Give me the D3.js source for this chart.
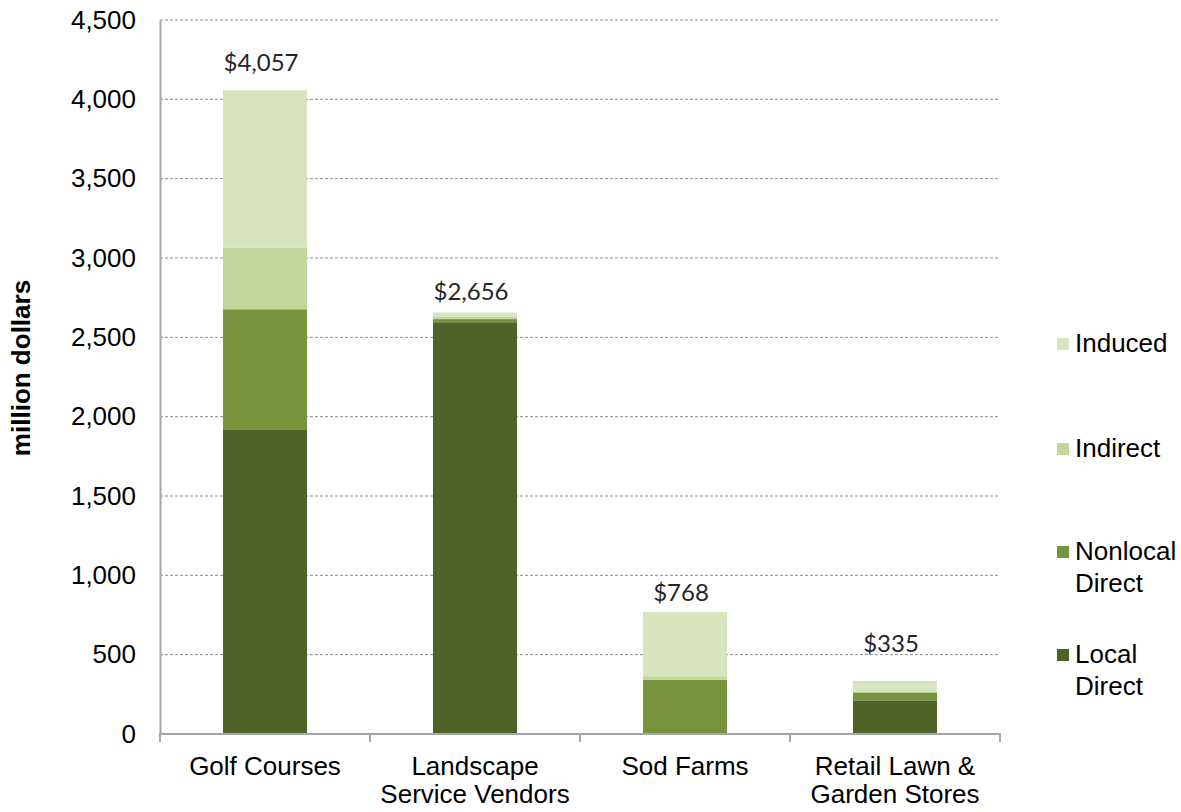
<!DOCTYPE html>
<html>
<head>
<meta charset="utf-8">
<script src="https://cdn.jsdelivr.net/npm/d3@7"></script>
<style>
  html, body { margin: 0; padding: 0; background: #ffffff; }
  svg { display: block; }
</style>
</head>
<body>
<svg id="chart" width="1181" height="812"></svg>
<script>
// Economic impact by sector, million dollars
const categories = [["Golf Courses"], ["Landscape", "Service Vendors"], ["Sod Farms"], ["Retail Lawn &", "Garden Stores"]];
const seriesNames = ["Local Direct", "Nonlocal Direct", "Indirect", "Induced"];
const localDirect    = [1916, 2595, 0,   212];
const nonlocalDirect = [761,  20,   342, 50];
const indirect       = [388,  16,   22,  6];
const induced        = [992,  25,   404, 67];
const totals         = [4057, 2656, 768, 335];
const yTicks = [0, 500, 1000, 1500, 2000, 2500, 3000, 3500, 4000, 4500];

const colors = ["#4f6228", "#77933c", "#c3d69b", "#d7e4bd"];

const svg = d3.select("#chart");
const margin = { left: 160, right: 181, top: 20, bottom: 78 };
const W = 1181, H = 812;

const x = d3.scaleBand()
  .domain(d3.range(categories.length))
  .range([margin.left, W - margin.right])
  .paddingInner(0.6)
  .paddingOuter(0.3);

const y = d3.scaleLinear()
  .domain([0, 4500])
  .range([H - margin.bottom, margin.top]);

const axisFont = "'Liberation Sans', Arial, sans-serif";
const textSize = 26;

// Horizontal dashed grid lines
svg.append("g")
  .selectAll("line")
  .data(yTicks.filter(d => d > 0))
  .join("line")
  .attr("x1", margin.left)
  .attr("x2", W - margin.right)
  .attr("y1", d => y(d))
  .attr("y2", d => y(d))
  .attr("stroke", "#8c8c8c")
  .attr("stroke-width", 1)
  .attr("stroke-dasharray", "3,2");

// Stacked bars
const rows = categories.map((c, i) => ({
  i,
  "Local Direct": localDirect[i],
  "Nonlocal Direct": nonlocalDirect[i],
  "Indirect": indirect[i],
  "Induced": induced[i]
}));
const stacked = d3.stack().keys(seriesNames)(rows);

svg.append("g")
  .selectAll("g")
  .data(stacked)
  .join("g")
  .attr("fill", (d, k) => colors[k])
  .selectAll("rect")
  .data(d => d)
  .join("rect")
  .attr("x", d => x(d.data.i))
  .attr("width", x.bandwidth())
  .attr("y", d => y(d[1]))
  .attr("height", d => Math.max(0, y(d[0]) - y(d[1])));

// Y axis
const yAxis = svg.append("g")
  .attr("transform", `translate(${margin.left},0)`)
  .call(d3.axisLeft(y).tickValues(yTicks).tickFormat(d3.format(",")).tickSize(0).tickPadding(24));
yAxis.select(".domain").attr("stroke", "#a6a6a6").attr("stroke-width", 2);
yAxis.selectAll("text")
  .attr("font-family", axisFont)
  .attr("font-size", textSize)
  .attr("fill", "#000");

// X axis with tick marks on the category boundaries
const xBase = y(0);
svg.append("line")
  .attr("x1", margin.left - 1).attr("x2", W - margin.right + 1)
  .attr("y1", xBase).attr("y2", xBase)
  .attr("stroke", "#a6a6a6").attr("stroke-width", 2);
const step = x.step();
const boundaries = d3.range(categories.length + 1).map(k => margin.left + k * step);
svg.append("g")
  .selectAll("line")
  .data(boundaries)
  .join("line")
  .attr("x1", d => d).attr("x2", d => d)
  .attr("y1", xBase).attr("y2", xBase + 8)
  .attr("stroke", "#a6a6a6").attr("stroke-width", 2);

// Category labels
svg.append("g")
  .selectAll("text")
  .data(categories)
  .join("text")
  .attr("text-anchor", "middle")
  .attr("font-family", axisFont)
  .attr("font-size", textSize)
  .attr("fill", "#000")
  .attr("x", (d, i) => x(i) + x.bandwidth() / 2)
  .attr("y", xBase + 41)
  .selectAll("tspan")
  .data(d => d)
  .join("tspan")
  .attr("x", function () { return d3.select(this.parentNode).attr("x"); })
  .attr("dy", (d, k) => k === 0 ? 0 : 28)
  .text(d => d);

// Total labels above each bar
const labelLift = [19, 13, 11, 29];
svg.append("g")
  .selectAll("text")
  .data(totals)
  .join("text")
  .attr("text-anchor", "middle")
  .attr("font-family", "Lato, 'Open Sans', sans-serif")
  .attr("font-size", 24)
  .attr("fill", "#262626")
  .attr("x", (d, i) => x(i) + x.bandwidth() / 2 - 4)
  .attr("y", (d, i) => y(d) - labelLift[i])
  .text(d => "$" + d3.format(",")(d));

// Y axis title
svg.append("text")
  .attr("transform", "translate(30,368) rotate(-90)")
  .attr("text-anchor", "middle")
  .attr("font-family", axisFont)
  .attr("font-weight", "bold")
  .attr("font-size", 26)
  .attr("fill", "#000")
  .text("million dollars");

// Legend, topmost series first
const legendItems = [
  { name: ["Induced"], color: colors[3], y: 352 },
  { name: ["Indirect"], color: colors[2], y: 457 },
  { name: ["Nonlocal", "Direct"], color: colors[1], y: 560 },
  { name: ["Local", "Direct"], color: colors[0], y: 663 }
];
const legend = svg.append("g");
const li = legend.selectAll("g").data(legendItems).join("g");
li.append("rect")
  .attr("x", 1057).attr("y", d => d.y - 14)
  .attr("width", 12).attr("height", 12)
  .attr("fill", d => d.color);
li.append("text")
  .attr("font-family", axisFont)
  .attr("font-size", textSize)
  .attr("fill", "#000")
  .attr("x", 1075)
  .attr("y", d => d.y)
  .selectAll("tspan")
  .data(d => d.name)
  .join("tspan")
  .attr("x", 1075)
  .attr("dy", (d, k) => k === 0 ? 0 : 32)
  .text(d => d);
</script>
</body>
</html>
